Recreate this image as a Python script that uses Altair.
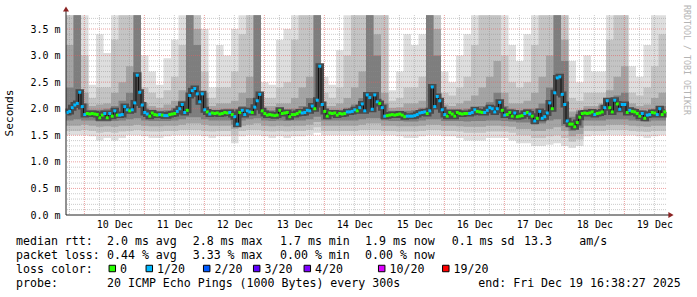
import json
import pandas as pd
import altair as alt

# ---------------- data ----------------
START = 16 + 38 / 60 + 27 / 3600      # Dec 9 16:38:27 (hours since Dec 9 00:00)
SPAN = 240                           # 10 days in hours
YMAX = 3.764                         # ms

# hourly median rtt (ms) and loss count (out of 20)
MEDIAN = [
    1.93, 1.95, 2.02, 2.07, 2.10, 2.31, 2.04, 1.89, 1.91, 1.90,
    1.91, 1.90, 1.89, 1.83, 1.88, 1.91, 1.83, 1.91, 1.86, 1.96,
    1.88, 1.88, 1.89, 2.04, 1.98, 1.96, 1.98, 2.11, 2.63, 2.31,
    2.07, 1.93, 1.90, 1.86, 1.92, 1.89, 1.88, 1.89, 1.88, 1.87,
    1.87, 1.89, 1.90, 1.91, 1.95, 2.00, 2.08, 1.93, 1.97, 2.25,
    2.34, 2.38, 2.28, 2.13, 2.28, 1.98, 1.94, 1.90, 1.92, 1.91,
    1.92, 1.90, 1.91, 1.93, 1.92, 1.93, 1.89, 1.85, 1.71, 1.93,
    1.97, 1.89, 1.96, 1.94, 1.93, 2.03, 2.15, 2.27, 1.96, 1.91,
    1.88, 1.89, 1.88, 1.87, 1.88, 1.97, 1.91, 1.92, 1.93, 1.85,
    1.89, 1.89, 1.91, 1.94, 1.92, 1.93, 1.97, 1.96, 2.05, 2.00,
    2.16, 2.80, 2.08, 1.95, 1.86, 1.92, 1.91, 1.92, 1.88, 1.91,
    1.90, 1.91, 1.94, 1.94, 1.95, 1.98, 1.96, 2.02, 2.09, 1.96,
    2.26, 2.21, 1.99, 2.26, 2.13, 2.10, 2.02, 1.86, 1.87, 1.88,
    1.89, 1.88, 1.89, 1.90, 1.88, 1.85, 1.86, 1.86, 1.86, 1.87,
    1.89, 1.92, 1.93, 1.94, 1.91, 1.96, 2.41, 2.04, 2.23, 2.15,
    1.98, 1.89, 1.86, 1.93, 1.90, 1.86, 1.93, 1.91, 1.90, 1.91,
    1.91, 1.91, 1.93, 1.98, 1.95, 1.94, 1.93, 1.93, 1.97, 2.02,
    2.00, 1.94, 2.00, 2.12, 1.97, 1.88, 1.89, 1.93, 1.86, 1.92,
    1.85, 1.86, 1.87, 1.91, 1.93, 1.90, 1.86, 1.77, 1.82, 1.95,
    1.82, 1.85, 1.92, 2.11, 2.00, 2.30, 2.58, 2.60, 2.27, 2.08,
    1.77, 1.71, 1.71, 1.66, 1.74, 1.84, 1.91, 1.92, 1.91, 1.92,
    1.94, 1.89, 1.91, 1.92, 1.94, 2.02, 2.15, 2.02, 1.94, 2.16,
    2.09, 1.99, 2.08, 2.08, 1.93, 1.97, 1.95, 1.94, 1.91, 1.86,
    1.91, 1.82, 1.88, 1.89, 1.93, 1.92, 1.89, 2.00, 1.89, 1.94,
]
LOSS = [
    1, 1, 1, 1, 1, 1, 1, 1, 0, 0,
    0, 0, 0, 0, 0, 1, 0, 1, 0, 1,
    0, 1, 1, 1, 1, 0, 1, 1, 1, 1,
    1, 1, 1, 0, 0, 0, 0, 1, 0, 1,
    1, 0, 0, 0, 1, 1, 1, 1, 0, 1,
    1, 1, 1, 1, 1, 1, 0, 1, 0, 0,
    0, 0, 0, 0, 0, 1, 0, 1, 1, 0,
    1, 1, 1, 1, 0, 1, 1, 1, 0, 0,
    0, 0, 0, 0, 0, 0, 0, 0, 0, 0,
    0, 0, 0, 0, 1, 1, 1, 1, 1, 0,
    1, 1, 1, 0, 0, 0, 0, 0, 0, 0,
    0, 0, 1, 1, 1, 1, 0, 1, 1, 1,
    1, 1, 1, 1, 1, 0, 1, 1, 0, 0,
    0, 0, 0, 0, 0, 0, 1, 1, 1, 1,
    1, 1, 1, 1, 0, 1, 1, 1, 1, 1,
    1, 1, 0, 0, 0, 0, 0, 0, 0, 0,
    0, 1, 1, 1, 0, 0, 0, 1, 1, 1,
    1, 1, 1, 1, 0, 1, 0, 0, 0, 1,
    0, 0, 0, 1, 0, 1, 0, 1, 0, 1,
    1, 1, 1, 1, 0, 1, 1, 1, 1, 1,
    1, 0, 0, 0, 0, 0, 0, 0, 0, 0,
    0, 1, 0, 0, 0, 1, 1, 0, 0, 1,
    0, 1, 1, 1, 0, 1, 0, 0, 0, 0,
    1, 0, 1, 1, 0, 0, 1, 1, 0, 0,
]

# smoke: 3-hour bins, bands of ping spread (ms)
HI1 = [3.76, 3.76, 3.76, 2.45, 3.4, 3.05, 3.76, 3.76, 3.76, 3.76,
       3.0, 2.7, 2.45, 2.95, 3.3, 3.76, 3.76, 3.76, 3.5, 2.4,
       3.2, 3.0, 3.5, 3.76, 3.76, 3.76, 2.5, 2.45, 3.3, 3.5,
       3.76, 3.76, 3.76, 3.76, 2.6, 2.45, 3.1, 3.76, 3.76, 3.76,
       3.76, 3.76, 3.76, 2.35, 2.7, 3.4, 3.2, 3.4, 3.76, 3.76,
       2.7, 2.5, 3.0, 3.4, 3.76, 3.76, 3.76, 3.76, 3.76, 3.2,
       2.9, 3.4, 3.76, 3.76, 3.76, 3.76, 3.76, 2.9, 2.5, 3.0,
       2.7, 2.7, 3.76, 3.76, 3.76, 2.8, 2.6, 3.2, 3.76, 3.76]
HI2 = [3.76, 3.76, 3.0, 2.2, 2.4, 2.4, 3.3, 3.76, 3.76, 3.76,
       2.4, 2.3, 2.2, 2.35, 2.6, 3.2, 3.76, 3.76, 2.7, 2.2,
       2.4, 2.4, 2.7, 3.4, 3.76, 3.76, 2.2, 2.2, 2.4, 2.5,
       3.3, 3.76, 3.76, 3.76, 2.3, 2.2, 2.4, 3.0, 3.76, 3.76,
       3.76, 3.76, 3.76, 2.15, 2.2, 2.4, 2.4, 2.6, 3.76, 3.76,
       2.3, 2.25, 2.4, 2.6, 3.2, 3.76, 3.76, 3.76, 3.0, 2.5,
       2.4, 2.5, 3.2, 3.76, 3.76, 3.76, 3.76, 2.2, 2.15, 2.3,
       2.3, 2.3, 3.3, 3.76, 3.76, 2.3, 2.25, 2.4, 2.8, 3.4]
HI3 = [3.2, 3.76, 2.3, 2.05, 2.08, 2.1, 2.3, 2.5, 2.8, 3.76,
       2.1, 2.05, 2.02, 2.08, 2.15, 2.35, 3.76, 3.5, 2.3, 2.05,
       2.1, 2.1, 2.15, 2.3, 2.6, 3.76, 2.05, 2.05, 2.1, 2.1,
       2.2, 2.4, 2.6, 3.76, 2.05, 2.05, 2.1, 2.2, 2.4, 2.7,
       3.76, 3.4, 2.3, 2.02, 2.03, 2.1, 2.1, 2.15, 3.76, 3.5,
       2.08, 2.05, 2.1, 2.15, 2.25, 2.4, 2.6, 2.9, 2.3, 2.1,
       2.1, 2.15, 2.3, 2.6, 3.0, 3.76, 3.3, 1.95, 1.98, 2.05,
       2.05, 2.1, 2.35, 2.6, 2.8, 2.1, 2.05, 2.08, 2.2, 2.3]
HI4 = [2.4, 3.76, 2.1, 1.98, 1.98, 2.0, 2.05, 2.15, 2.3, 3.76,
       2.02, 1.98, 1.96, 1.97, 2.02, 2.15, 3.76, 3.2, 2.2, 1.98,
       1.98, 2.0, 2.0, 2.05, 2.2, 3.76, 1.98, 1.97, 2.0, 1.98,
       2.0, 2.05, 2.2, 3.76, 1.98, 1.98, 1.98, 2.02, 2.08, 2.2,
       3.76, 3.0, 2.1, 1.96, 1.96, 1.96, 1.97, 2.02, 3.76, 3.0,
       1.98, 1.97, 1.98, 2.0, 2.03, 2.05, 2.12, 2.3, 2.05, 2.0,
       1.97, 2.0, 2.0, 2.1, 2.4, 3.76, 2.9, 1.85, 1.95, 2.0,
       1.99, 2.06, 2.2, 2.25, 2.3, 2.02, 1.97, 1.96, 2.0, 2.05]
LO1 = [1.50, 1.50, 1.50, 1.48, 1.40, 1.45, 1.40, 1.45, 1.50, 1.50,
       1.48, 1.45, 1.45, 1.48, 1.50, 1.50, 1.50, 1.50, 1.48, 1.45,
       1.48, 1.48, 1.35, 1.48, 1.50, 1.50, 1.48, 1.45, 1.48, 1.45,
       1.48, 1.48, 1.50, 1.55, 1.50, 1.50, 1.50, 1.50, 1.50, 1.50,
       1.50, 1.50, 1.50, 1.50, 1.48, 1.45, 1.45, 1.48, 1.50, 1.50,
       1.48, 1.48, 1.45, 1.40, 1.40, 1.40, 1.45, 1.45, 1.45, 1.40,
       1.35, 1.35, 1.30, 1.30, 1.32, 1.35, 1.30, 1.26, 1.30, 1.48,
       1.50, 1.50, 1.50, 1.50, 1.50, 1.50, 1.48, 1.45, 1.48, 1.50]
LO2 = [1.58, 1.58, 1.60, 1.58, 1.55, 1.56, 1.55, 1.57, 1.58, 1.60,
       1.58, 1.57, 1.57, 1.58, 1.58, 1.60, 1.60, 1.60, 1.58, 1.57,
       1.58, 1.58, 1.50, 1.58, 1.60, 1.60, 1.58, 1.57, 1.58, 1.57,
       1.58, 1.58, 1.60, 1.65, 1.58, 1.58, 1.58, 1.58, 1.58, 1.60,
       1.60, 1.60, 1.58, 1.58, 1.57, 1.57, 1.57, 1.58, 1.60, 1.60,
       1.58, 1.58, 1.57, 1.55, 1.55, 1.55, 1.57, 1.57, 1.57, 1.55,
       1.50, 1.50, 1.45, 1.45, 1.48, 1.50, 1.45, 1.38, 1.42, 1.58,
       1.58, 1.58, 1.60, 1.60, 1.60, 1.58, 1.57, 1.56, 1.58, 1.58]
LO3 = [1.68, 1.68, 1.70, 1.68, 1.66, 1.67, 1.66, 1.68, 1.68, 1.70,
       1.68, 1.67, 1.67, 1.68, 1.68, 1.70, 1.72, 1.72, 1.70, 1.68,
       1.68, 1.68, 1.62, 1.68, 1.70, 1.72, 1.68, 1.67, 1.68, 1.67,
       1.68, 1.68, 1.70, 1.75, 1.68, 1.68, 1.68, 1.68, 1.68, 1.70,
       1.72, 1.72, 1.68, 1.68, 1.67, 1.67, 1.67, 1.68, 1.70, 1.70,
       1.68, 1.68, 1.67, 1.66, 1.66, 1.66, 1.68, 1.68, 1.67, 1.66,
       1.62, 1.62, 1.58, 1.58, 1.62, 1.65, 1.58, 1.48, 1.52, 1.68,
       1.68, 1.68, 1.70, 1.70, 1.70, 1.68, 1.67, 1.66, 1.68, 1.68]
LO4 = [1.78, 1.80, 1.78, 1.78, 1.76, 1.76, 1.77, 1.78, 1.80, 1.82,
       1.78, 1.77, 1.77, 1.77, 1.78, 1.80, 1.84, 1.84, 1.80, 1.78,
       1.78, 1.78, 1.70, 1.78, 1.80, 1.82, 1.78, 1.77, 1.78, 1.77,
       1.78, 1.78, 1.80, 1.85, 1.78, 1.78, 1.78, 1.78, 1.78, 1.80,
       1.82, 1.82, 1.78, 1.77, 1.77, 1.76, 1.76, 1.78, 1.80, 1.80,
       1.77, 1.77, 1.77, 1.76, 1.77, 1.77, 1.78, 1.78, 1.77, 1.76,
       1.74, 1.74, 1.70, 1.72, 1.78, 1.80, 1.68, 1.58, 1.64, 1.78,
       1.78, 1.78, 1.80, 1.80, 1.80, 1.78, 1.77, 1.76, 1.78, 1.78]
BIN_HOURS = 3

DAY_NOON = [36, 60, 84, 108, 132, 156, 180, 204, 228, 252]
DAY_LABELS = ["10 Dec", "11 Dec", "12 Dec", "13 Dec", "14 Dec",
              "15 Dec", "16 Dec", "17 Dec", "18 Dec", "19 Dec"]
Y_TICKS = [0.0, 0.5, 1.0, 1.5, 2.0, 2.5, 3.0, 3.5]
Y_LABELS = ["0.0 m", "0.5 m", "1.0 m", "1.5 m", "2.0 m", "2.5 m", "3.0 m", "3.5 m"]

LOSS_KEYS = [0, 1, 2, 3, 4, 10, 19]
LOSS_NAMES = ["0", "1/20", "2/20", "3/20", "4/20", "10/20", "19/20"]
LOSS_COLORS = ["#26ff00", "#00b8ff", "#0059ff", "#5e00ff", "#7e00ff", "#dd00ff", "#ff0000"]

RTT_ROW = ["median rtt:", "2.0 ms avg", "2.8 ms max", "1.7 ms min", "1.9 ms now",
           "0.1 ms sd", "13.3", "am/s"]
LOSS_ROW = ["packet loss:", "0.44 % avg", "3.33 % max", "0.00 % min", "0.00 % now"]
PROBE_ROW = ["probe:", "20 ICMP Echo Pings (1000 Bytes) every 300s",
             "end: Fri Dec 19 16:38:27 2025"]

# ---------------- frames ----------------
n = len(HI1)
smoke = pd.DataFrame({
    "t": [START + BIN_HOURS * i for i in range(n)] + [START + SPAN],
    "hi1": HI1 + HI1[-1:], "hi2": HI2 + HI2[-1:], "hi3": HI3 + HI3[-1:], "hi4": HI4 + HI4[-1:],
    "lo1": LO1 + LO1[-1:], "lo2": LO2 + LO2[-1:], "lo3": LO3 + LO3[-1:], "lo4": LO4 + LO4[-1:],
})
med = pd.DataFrame({
    "t": [START + k + 0.5 for k in range(len(MEDIAN))],
    "v": MEDIAN,
    "loss": LOSS,
})

minor_h = [round(0.1 * i, 1) for i in range(1, 38) if i % 5 != 0]
major_h = [0.5 * i for i in range(1, 8)]
minor_v = [h for h in range(18, 257, 6) if h % 24 != 0]
major_v = [h for h in range(24, 257, 24)]

MONO = "DejaVu Sans Mono"
xs = alt.Scale(domain=[START, START + SPAN], nice=False, zero=False)
ys = alt.Scale(domain=[0, YMAX], nice=False, zero=False)
xaxis = alt.Axis(values=DAY_NOON,
                 labelExpr=f"{json.dumps(DAY_LABELS)}[indexof({json.dumps(DAY_NOON)}, datum.value)]",
                 title=None, grid=False, domain=False, ticks=False, labelFont=MONO,
                 labelFontSize=10, labelColor="#000000", labelPadding=4, labelAngle=0,
                 labelFlush=False, labelOverlap=False)
yaxis = alt.Axis(values=Y_TICKS,
                 labelExpr=f"{json.dumps(Y_LABELS)}[indexof({json.dumps(Y_TICKS)}, datum.value)]",
                 title=None, grid=False, domain=False, ticks=False, labelFont=MONO,
                 labelFontSize=10, labelColor="#000000", labelPadding=6, labelOverlap=False)


def band(lo, hi, color):
    return alt.Chart(smoke).mark_area(interpolate="step-after", color=color, opacity=1).encode(
        x=alt.X("t:Q", scale=xs, axis=xaxis),
        y=alt.Y(f"{lo}:Q", scale=ys, axis=yaxis),
        y2=f"{hi}:Q",
    )


layers = [
    band("lo1", "hi1", "#dedede"),
    band("lo2", "hi2", "#c4c4c4"),
    band("lo3", "hi3", "#a4a4a4"),
    band("lo4", "hi4", "#7e7e7e"),
]

# grid
def hgrid(vals, color, op):
    return alt.Chart(pd.DataFrame({"v": vals})).mark_rule(
        color=color, opacity=op, strokeDash=[1, 1], strokeWidth=1).encode(
        y=alt.Y("v:Q", scale=ys, axis=yaxis))


def vgrid(vals, color, op):
    return alt.Chart(pd.DataFrame({"v": vals})).mark_rule(
        color=color, opacity=op, strokeDash=[1, 1], strokeWidth=1).encode(
        x=alt.X("v:Q", scale=xs, axis=xaxis))


layers += [
    hgrid(minor_h, "#8c8c8c", 0.45),
    vgrid(minor_v, "#8c8c8c", 0.45),
    hgrid(major_h, "#e06060", 0.6),
    vgrid(major_v, "#e06060", 0.6),
]

# median
mx = alt.X("t:Q", scale=xs, axis=xaxis)
my = alt.Y("v:Q", scale=ys, axis=yaxis)
layers += [
    alt.Chart(med).mark_line(interpolate="step", color="#4a4a4a", strokeWidth=6).encode(x=mx, y=my),
    alt.Chart(med).mark_line(interpolate="step", color="#111111", strokeWidth=1).encode(x=mx, y=my),
    alt.Chart(med).mark_square(size=9, opacity=1, filled=True).encode(
        x=mx, y=my,
        color=alt.Color("loss:O", scale=alt.Scale(domain=LOSS_KEYS, range=LOSS_COLORS), legend=None)),
]

dummy = pd.DataFrame({"a": [0]})
PL, PT = 66, 15


def txt(s, ax, ay, size=11.6, color="#000000", angle=0, align="left", baseline="alphabetic"):
    return alt.Chart(dummy).mark_text(
        font=MONO, fontSize=size, color=color, angle=angle, align=align, baseline=baseline).encode(
        x=alt.value(ax - PL), y=alt.value(ay - PT), text=alt.value(s))


# axes lines and arrows
AX = "#222222"
ARROW = "#8b2323"
layers += [
    alt.Chart(dummy).mark_rule(color=AX, strokeWidth=1).encode(
        x=alt.value(0), y=alt.value(-5), y2=alt.value(200)),
    alt.Chart(dummy).mark_rule(color=AX, strokeWidth=1).encode(
        x=alt.value(0), x2=alt.value(603), y=alt.value(200)),
    alt.Chart(dummy).mark_point(shape="triangle-up", filled=True, size=36, color=ARROW, opacity=1).encode(
        x=alt.value(0), y=alt.value(-6)),
    alt.Chart(dummy).mark_point(shape="triangle-right", filled=True, size=36, color=ARROW, opacity=1).encode(
        x=alt.value(605), y=alt.value(200)),
]

# titles / watermark
layers += [
    txt("Seconds", 10, 113, size=11.2, angle=270, align="center", baseline="middle"),
    txt("RRDTOOL / TOBI OETIKER", 686, 5, size=8.3, color="#b4b4b4", angle=90,
        align="left", baseline="middle"),
]

# legend rows
rtt_x = [16, 107, 192.7, 280, 365, 451.7, 524, 579.3]
for s, x in zip(RTT_ROW, rtt_x):
    layers.append(txt(s, x, 245))
loss_x = [16, 107, 192.7, 280, 365]
for s, x in zip(LOSS_ROW, loss_x):
    layers.append(txt(s, x, 259))
layers.append(txt("loss color:", 16, 273))
sq_x = [112.3, 149.3, 206.7, 256.7, 307.3, 381.7, 445.8]
for name, col, x in zip(LOSS_NAMES, LOSS_COLORS, sq_x):
    layers.append(alt.Chart(dummy).mark_square(size=42, filled=True, color=col, opacity=1,
                                               stroke="#000000", strokeWidth=1).encode(
        x=alt.value(x - PL), y=alt.value(268.5 - PT)))
    layers.append(txt(name, x + 7.8, 273))
probe_x = [16, 107, 478.3]
for s, x in zip(PROBE_ROW, probe_x):
    layers.append(txt(s, x, 287))

chart = alt.layer(*layers).properties(
    width=600, height=200,
    padding={"left": PL, "top": PT, "right": 31, "bottom": 82},
    autosize=alt.AutoSizeParams(type="none"),
    background="#ffffff",
).configure_view(stroke=None)

chart.save("out.html", embed_options={"renderer": "svg", "actions": False})
